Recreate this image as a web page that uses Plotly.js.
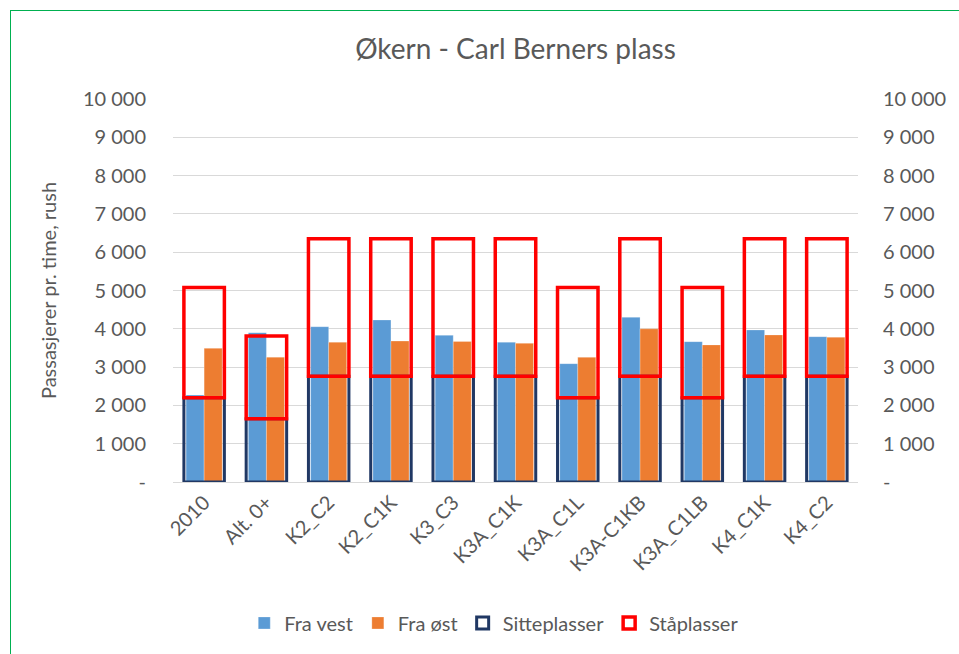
<!DOCTYPE html>
<html>
<head>
<meta charset="utf-8">
<script src="https://cdn.plot.ly/plotly-3.0.1.min.js"></script>
<style>
  html, body { margin: 0; padding: 0; background: #fff; overflow: hidden; width: 959px; height: 654px; }
  #chart { width: 959px; height: 654px; position: absolute; left: 0; top: 0; }
  #frameTop { position: absolute; left: 10px; top: 10px; width: 949px; height: 0;
              border-top: 1px solid #00B050; pointer-events: none; }
  #frameLeft { position: absolute; left: 10px; top: 10px; width: 0; height: 644px;
              border-left: 1px solid #00B050; pointer-events: none; }
</style>
</head>
<body>
<div id="chart"></div>
<div id="frameTop"></div>
<div id="frameLeft"></div>
<script>
// ---- Data ----
const categories = ["2010", "Alt. 0+", "K2_C2", "K2_C1K", "K3_C3", "K3A_C1K", "K3A_C1L", "K3A-C1KB", "K3A_C1LB", "K4_C1K", "K4_C2"];
const fraVest    = [2270, 3900, 4055, 4230, 3830, 3650, 3090, 4300, 3665, 3970, 3795];
const fraOst     = [3490, 3260, 3650, 3680, 3670, 3620, 3255, 4000, 3580, 3840, 3780];
const sitteplasser = [2200, 1650, 2760, 2760, 2760, 2760, 2200, 2760, 2200, 2760, 2760];
const staplasserTotal = [5080, 3810, 6350, 6350, 6350, 6350, 5080, 6350, 5080, 6350, 6350];
const staplasser = staplasserTotal.map((t, i) => t - sitteplasser[i]);
const tickVals   = [0, 1000, 2000, 3000, 4000, 5000, 6000, 7000, 8000, 9000, 10000];
const tickLabels = ["-", "1 000", "2 000", "3 000", "4 000", "5 000", "6 000", "7 000", "8 000", "9 000", "10 000"];

const FONT = "Lato, 'Open Sans', sans-serif";
const GREY = "#595959";

const traces = [
  { type: "bar", name: "Fra vest", x: categories, y: fraVest, xaxis: "x", yaxis: "y",
    width: 0.29, offset: -0.29,
    marker: { color: "#5B9BD5", line: { color: "rgba(255,255,255,0.5)", width: 0.5 } }, hoverinfo: "skip" },
  { type: "bar", name: "Fra øst", x: categories, y: fraOst, xaxis: "x", yaxis: "y",
    width: 0.29, offset: 0,
    marker: { color: "#ED7D31", line: { color: "rgba(255,255,255,0.5)", width: 0.5 } }, hoverinfo: "skip" },
  { type: "bar", name: "Sitteplasser", x: categories, y: sitteplasser, xaxis: "x", yaxis: "y2",
    width: 0.65, offset: -0.325,
    marker: { color: "rgba(0,0,0,0)", line: { color: "#203864", width: 3 } }, hoverinfo: "skip" },
  { type: "bar", name: "Ståplasser", x: categories, y: staplasser, base: sitteplasser, xaxis: "x", yaxis: "y2",
    width: 0.65, offset: -0.325,
    marker: { color: "rgba(0,0,0,0)", line: { color: "#FF0000", width: 3.5 } }, hoverinfo: "skip" }
];

const layout = {
  width: 959, height: 654,
  margin: { l: 173, r: 101, t: 99, b: 172, pad: 0 },
  paper_bgcolor: "#ffffff", plot_bgcolor: "#ffffff",
  barmode: "overlay",
  font: { family: FONT, color: GREY, size: 20 },
  title: { text: "Økern - Carl Berners plass", font: { family: FONT, size: 28, color: GREY },
           x: 0.5, xref: "paper", xanchor: "center", y: 50, yref: "container", yanchor: "middle" },
  xaxis: {
    type: "category", tickangle: -45, showgrid: false, zeroline: false,
    showline: true, linecolor: "#D9D9D9", linewidth: 1, ticks: "",
    tickfont: { family: FONT, size: 20, color: GREY }, range: [-0.5, 10.5]
  },
  yaxis: {
    range: [0, 10000], tickvals: tickVals, ticktext: tickLabels, showgrid: true,
    gridcolor: "#D9D9D9", gridwidth: 1, zeroline: false, showline: false, ticks: "",
    ticklabelstandoff: 26,
    tickfont: { family: FONT, size: 20, color: GREY },
    title: { text: "Passasjerer pr. time, rush", font: { family: FONT, size: 20, color: GREY }, standoff: 20 }
  },
  yaxis2: {
    range: [0, 10000], tickvals: tickVals, ticktext: tickLabels, overlaying: "y", side: "right",
    showgrid: false, zeroline: false, showline: false, ticks: "",
    ticklabelstandoff: 24,
    tickfont: { family: FONT, size: 20, color: GREY }
  },
  showlegend: true,
  legend: { orientation: "h", x: 0.469, xanchor: "center", y: -0.368, yanchor: "middle",
            font: { family: FONT, size: 20, color: GREY }, traceorder: "normal", itemclick: false }
};

Plotly.newPlot("chart", traces, layout, { staticPlot: true, displayModeBar: false });
</script>
</body>
</html>
